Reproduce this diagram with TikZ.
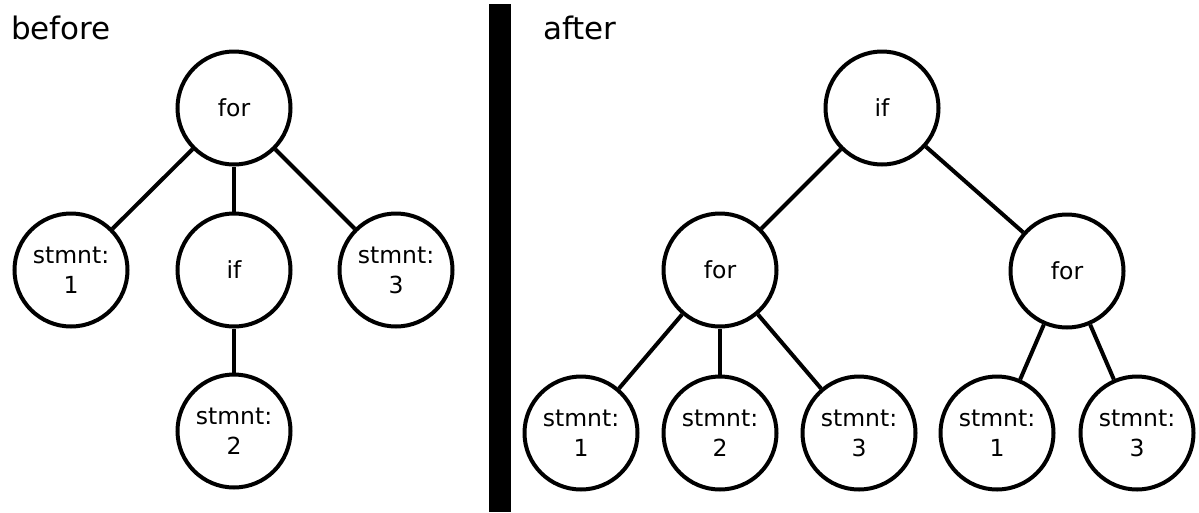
\documentclass[tikz,border=0pt]{standalone}
\usepackage{fontspec}
\setmainfont{DejaVu Sans}
\begin{document}
\begin{tikzpicture}[x=1pt,y=-1pt,
  tn/.style={circle,draw,line width=4pt,minimum size=113pt,inner sep=0pt,align=center,
    font=\fontsize{23.5}{30}\selectfont},
  ln/.style={line width=4pt},
  ttl/.style={anchor=base west,inner sep=0pt,font=\fontsize{31}{36}\selectfont}]
\useasboundingbox (0,0) rectangle (1199,512);
\fill (489,4) rectangle (511,512);
\node[ttl] (tb) at (11,39) {before};
\node[ttl] (ta) at (543,39) {after};
% before
\node[tn] (for1) at (234,108) {for};
\node[tn] (a1) at (71,270) {stmnt:\\1};
\node[tn] (if1) at (234,270) {if};
\node[tn] (a3) at (396,270) {stmnt:\\3};
\node[tn] (a2) at (234,431) {stmnt:\\2};
\draw[ln] (for1) -- (a1);
\draw[ln] (for1) -- (if1);
\draw[ln] (for1) -- (a3);
\draw[ln] (if1) -- (a2);
% after
\node[tn] (if2) at (882,108) {if};
\node[tn] (forA) at (720,270) {for};
\node[tn] (forB) at (1067,271) {for};
\node[tn] (b1) at (581,433) {stmnt:\\1};
\node[tn] (b2) at (720,433) {stmnt:\\2};
\node[tn] (b3) at (859,433) {stmnt:\\3};
\node[tn] (c1) at (997,433) {stmnt:\\1};
\node[tn] (c3) at (1137,433) {stmnt:\\3};
\draw[ln] (if2) -- (forA);
\draw[ln] (if2) -- (forB);
\draw[ln] (forA) -- (b1);
\draw[ln] (forA) -- (b2);
\draw[ln] (forA) -- (b3);
\draw[ln] (forB) -- (c1);
\draw[ln] (forB) -- (c3);
\end{tikzpicture}
\end{document}
